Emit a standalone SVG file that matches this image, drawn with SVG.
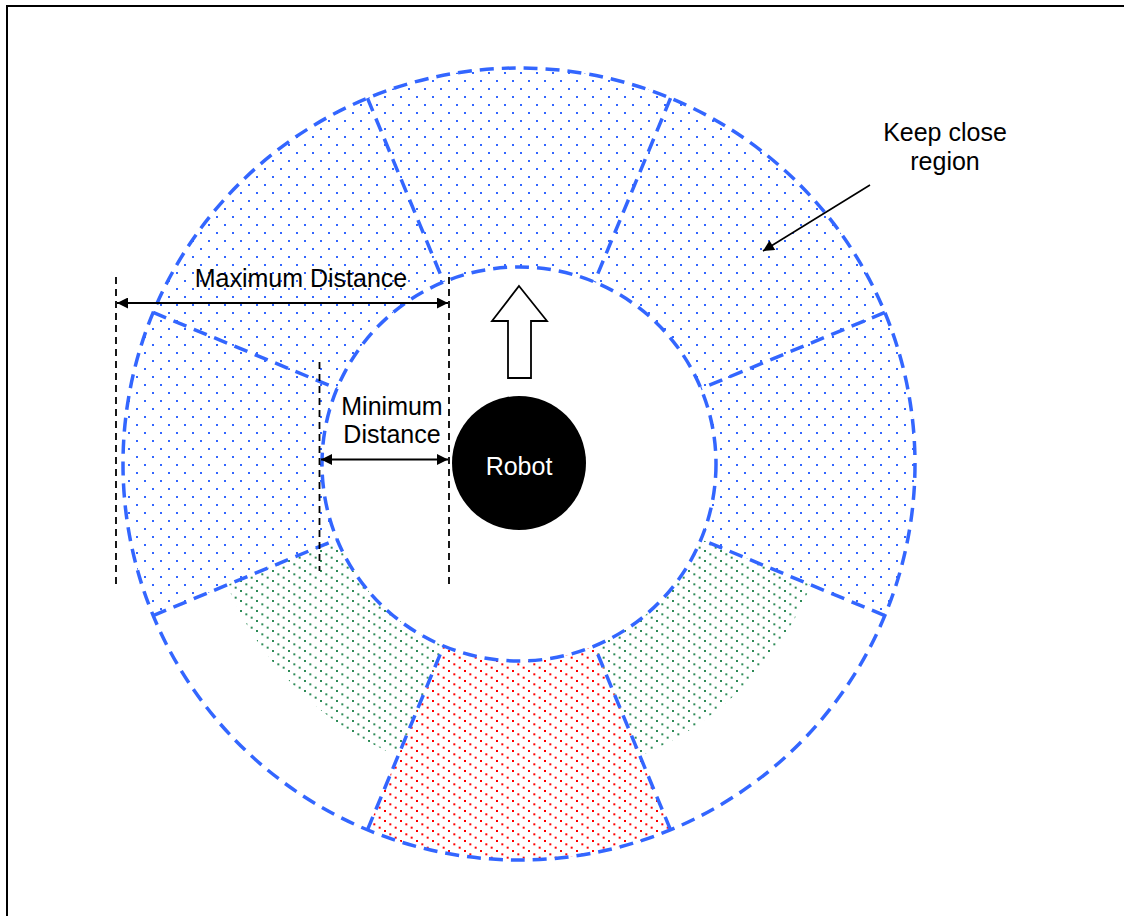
<svg xmlns="http://www.w3.org/2000/svg" width="1124" height="916" viewBox="0 0 1124 916">
  <style>
    .seg { stroke: #3366ff; stroke-width: 3.5; stroke-dasharray: 14 8; fill: none; }
    .dim { stroke: #000; stroke-width: 1.8; stroke-dasharray: 7 5; fill: none; }
    .arr { stroke: #000; stroke-width: 2; fill: none; }
    .lbl { font-family: "Liberation Sans", Arial, sans-serif; font-size: 25px; fill: #000; text-anchor: middle; }
  </style>
  <defs>
    <pattern id="dotsBlue" width="16" height="16" patternUnits="userSpaceOnUse">
      <rect x="0" y="0" width="2" height="2" fill="#3366ff"/>
      <rect x="8" y="8" width="2" height="2" fill="#3366ff"/>
    </pattern>
    <pattern id="dotsGreen" width="16" height="10" patternUnits="userSpaceOnUse">
      <rect x="0" y="0" width="2" height="2" fill="#2e8b57"/>
      <rect x="5.33" y="3.33" width="2" height="2" fill="#2e8b57"/>
      <rect x="10.67" y="6.67" width="2" height="2" fill="#2e8b57"/>
    </pattern>
    <pattern id="dotsRed" width="16" height="10" patternUnits="userSpaceOnUse">
      <rect x="0" y="0" width="2" height="2" fill="#ff0000"/>
      <rect x="5.33" y="3.33" width="2" height="2" fill="#ff0000"/>
      <rect x="10.67" y="6.67" width="2" height="2" fill="#ff0000"/>
    </pattern>
    <marker id="head" viewBox="0 0 10 10" refX="10" refY="5" markerWidth="15" markerHeight="11" markerUnits="userSpaceOnUse" orient="auto-start-reverse">
      <path d="M0,0 L10,5 L0,10 Z" fill="#000"/>
    </marker>
  </defs>

  <rect x="7" y="6" width="1130" height="930" fill="#fff" stroke="#000" stroke-width="2"/>

  <!-- ring segments, 45 degrees each, centre (519,464), radii 197 / 396 -->
  <g id="seg-top">
    <path d="M367.46,98.14 A396,396 0 0 1 670.54,98.14 L594.39,282 A197,197 0 0 0 443.61,282 Z" fill="url(#dotsBlue)"/>
  </g>
  <g id="seg-upper-right">
    <path d="M670.54,98.14 A396,396 0 0 1 884.86,312.46 L701,388.61 A197,197 0 0 0 594.39,282 Z" fill="url(#dotsBlue)"/>
  </g>
  <g id="seg-right">
    <path d="M884.86,312.46 A396,396 0 0 1 884.86,615.54 L701,539.39 A197,197 0 0 0 701,388.61 Z" fill="url(#dotsBlue)"/>
  </g>
  <g id="seg-lower-right">
    <path d="M810.95,584.93 A316,316 0 0 1 639.93,755.95 L594.39,646 A197,197 0 0 0 701,539.39 Z" fill="url(#dotsGreen)"/>
  </g>
  <g id="seg-bottom">
    <path d="M670.54,829.86 A396,396 0 0 1 367.46,829.86 L443.61,646 A197,197 0 0 0 594.39,646 Z" fill="url(#dotsRed)"/>
  </g>
  <g id="seg-lower-left">
    <path d="M398.07,755.95 A316,316 0 0 1 227.05,584.93 L337,539.39 A197,197 0 0 0 443.61,646 Z" fill="url(#dotsGreen)"/>
  </g>
  <g id="seg-left">
    <path d="M153.14,615.54 A396,396 0 0 1 153.14,312.46 L337,388.61 A197,197 0 0 0 337,539.39 Z" fill="url(#dotsBlue)"/>
  </g>
  <g id="seg-upper-left">
    <path d="M153.14,312.46 A396,396 0 0 1 367.46,98.14 L443.61,282 A197,197 0 0 0 337,388.61 Z" fill="url(#dotsBlue)"/>
  </g>

  <!-- dashed outlines of the ring and the segment borders -->
  <g id="seg-outlines">
    <circle class="seg" cx="519" cy="464" r="396"/>
    <circle class="seg" cx="519" cy="464" r="197"/>
    <line class="seg" x1="367.46" y1="98.14" x2="443.61" y2="282"/>
    <line class="seg" x1="670.54" y1="98.14" x2="594.39" y2="282"/>
    <line class="seg" x1="884.86" y1="312.46" x2="701" y2="388.61"/>
    <line class="seg" x1="884.86" y1="615.54" x2="701" y2="539.39"/>
    <line class="seg" x1="670.54" y1="829.86" x2="594.39" y2="646"/>
    <line class="seg" x1="367.46" y1="829.86" x2="443.61" y2="646"/>
    <line class="seg" x1="153.14" y1="615.54" x2="337" y2="539.39"/>
    <line class="seg" x1="153.14" y1="312.46" x2="337" y2="388.61"/>
  </g>

  <!-- heading arrow -->
  <g id="heading">
    <polygon points="519,286 547,321 531,321 531,378 508,378 508,321 492,321" fill="#fff" stroke="#000" stroke-width="1.8" stroke-linejoin="miter"/>
  </g>

  <!-- robot body -->
  <g id="robot">
    <circle cx="519" cy="463" r="67" fill="#000"/>
    <text class="lbl" x="519" y="475" style="fill:#fff">Robot</text>
  </g>

  <!-- dimension guides, measurement arrows and pointer -->
  <g id="connectors">
    <line class="dim" x1="116" y1="277" x2="116" y2="584"/>
    <line class="dim" x1="449" y1="277" x2="449" y2="584"/>
    <line class="dim" x1="319.5" y1="362" x2="319.5" y2="571"/>
    <line class="arr" x1="117" y1="303" x2="448" y2="303" marker-start="url(#head)" marker-end="url(#head)"/>
    <line class="arr" x1="321" y1="459.5" x2="448" y2="459.5" marker-start="url(#head)" marker-end="url(#head)"/>
    <line x1="870" y1="185" x2="763" y2="251" stroke="#000" stroke-width="1.6" marker-end="url(#head)"/>
  </g>

  <g id="labels">
    <text class="lbl" x="301" y="287">Maximum Distance</text>
    <text class="lbl" x="392" y="415">Minimum</text>
    <text class="lbl" x="392" y="443">Distance</text>
    <text class="lbl" x="945" y="141">Keep close</text>
    <text class="lbl" x="945" y="170">region</text>
  </g>
</svg>
